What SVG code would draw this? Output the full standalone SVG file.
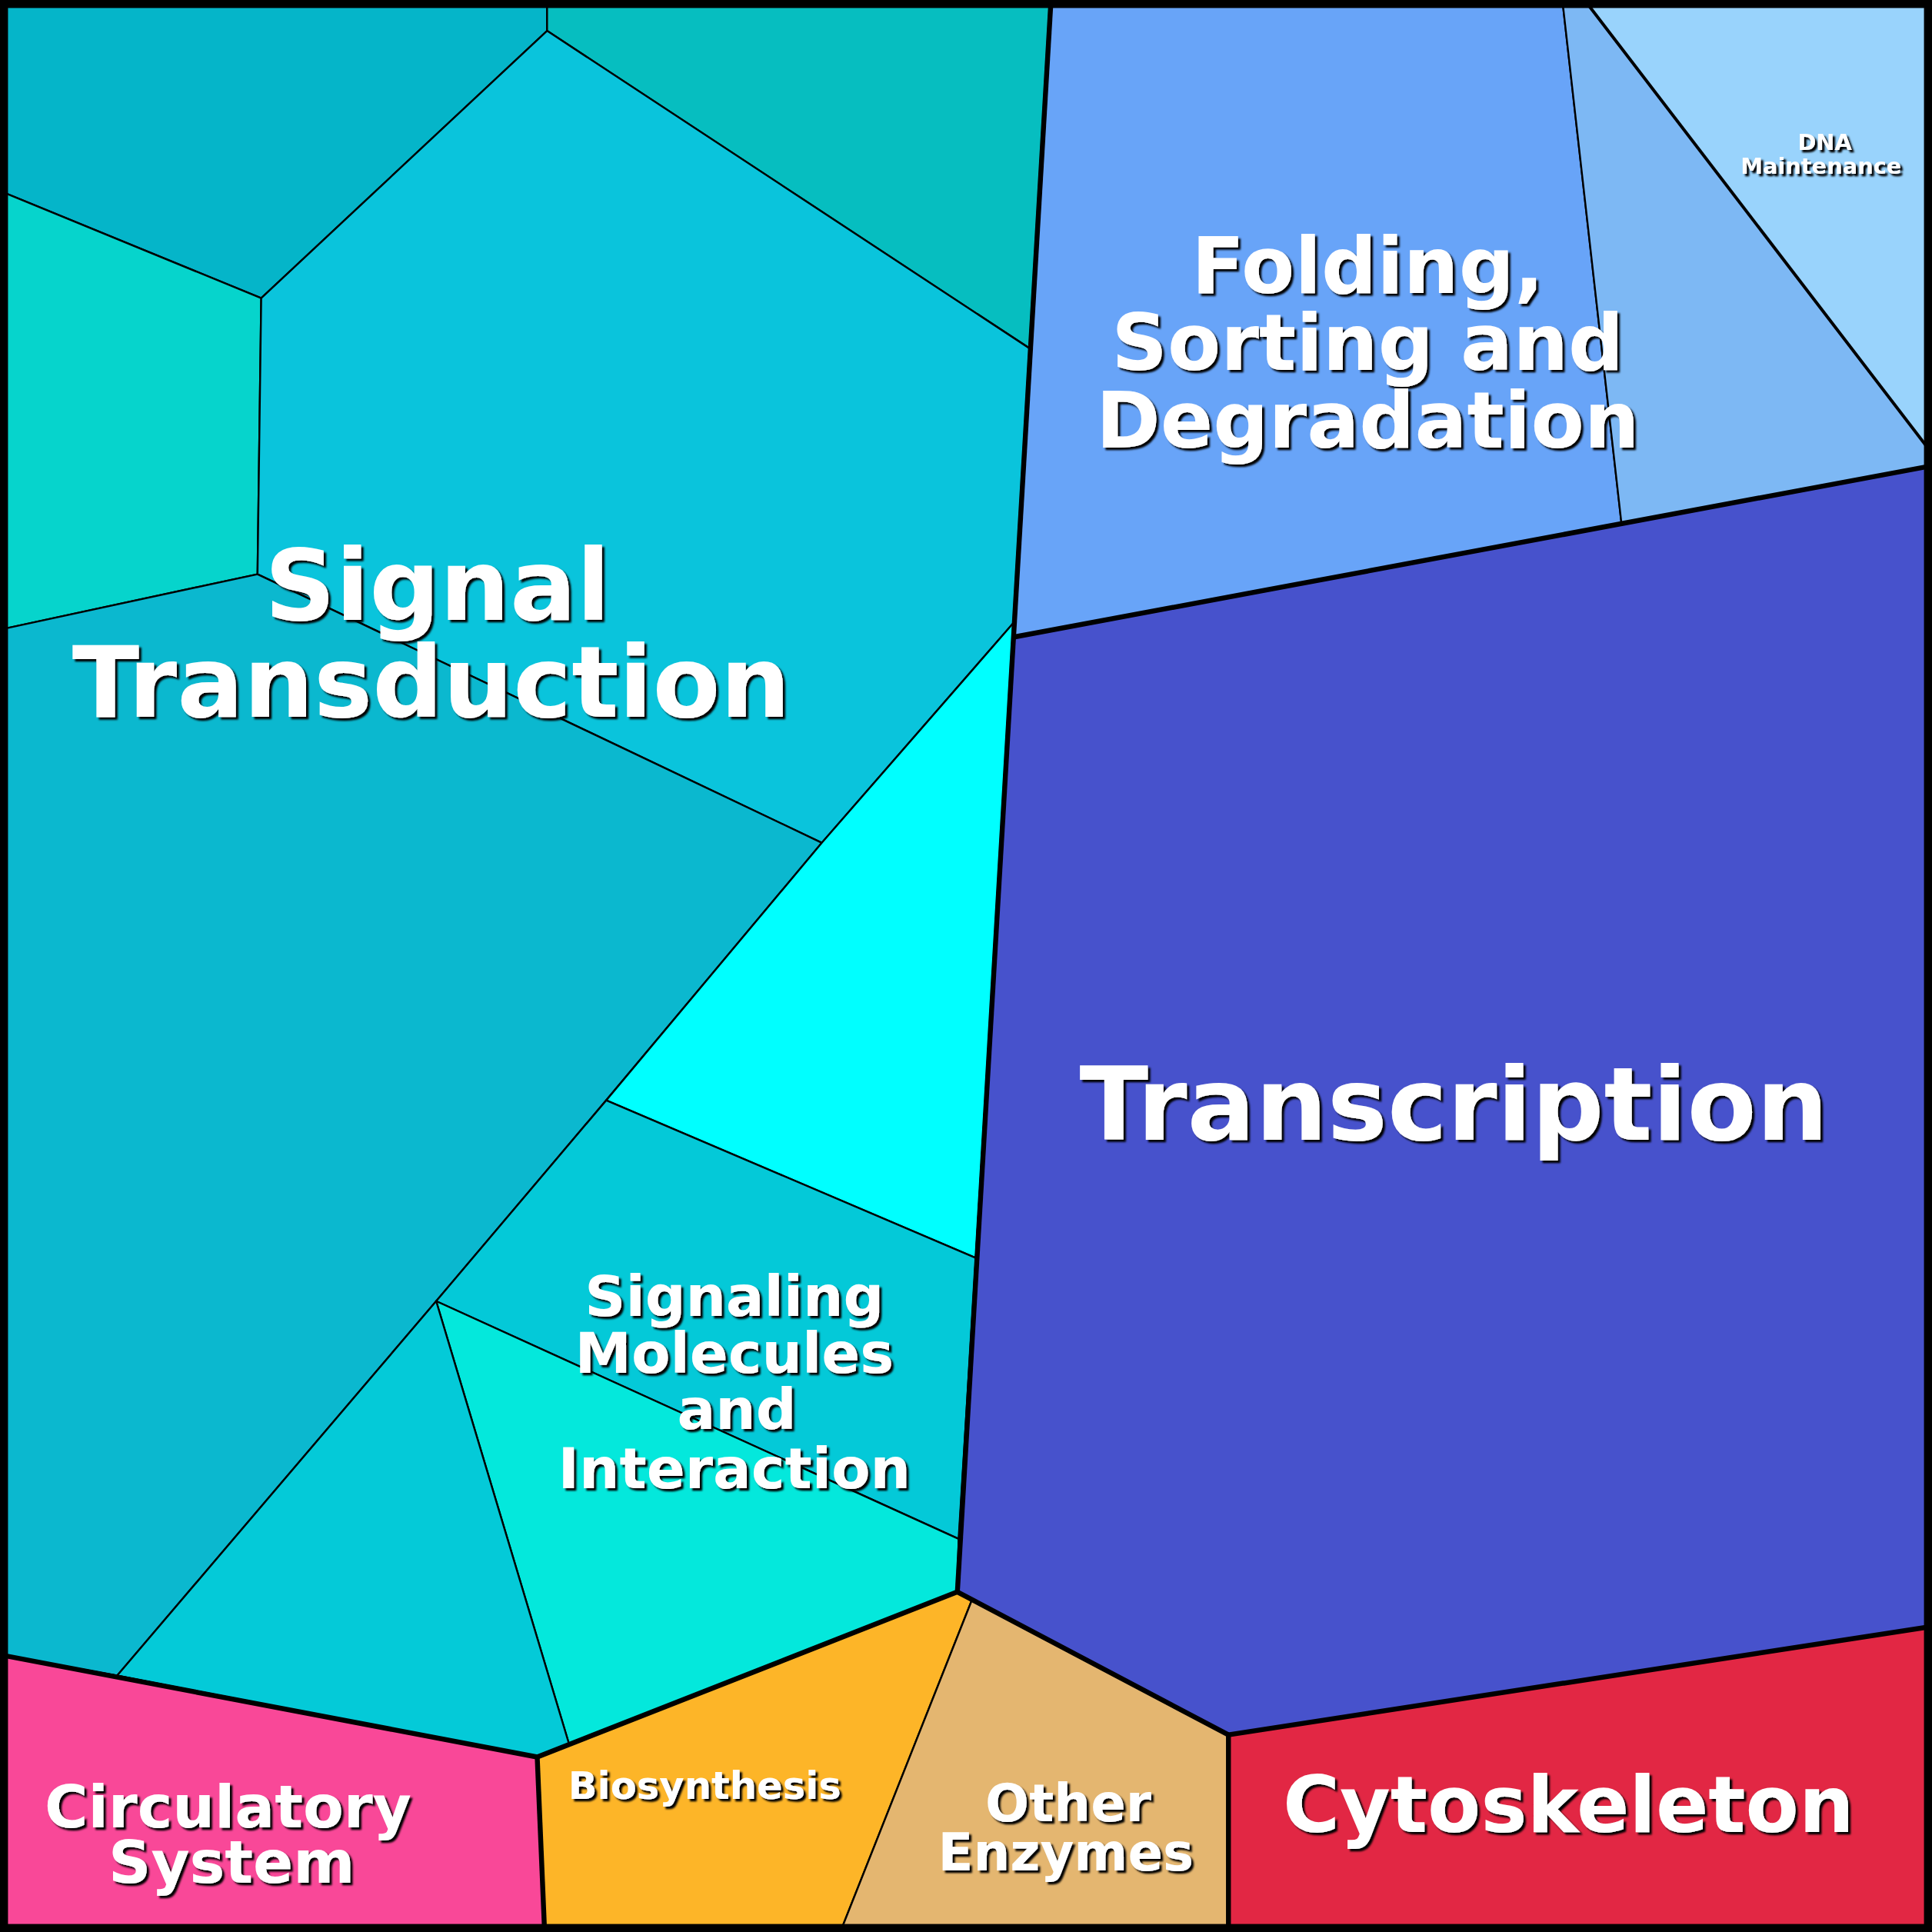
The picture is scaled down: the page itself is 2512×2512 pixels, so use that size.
<svg xmlns="http://www.w3.org/2000/svg" width="2512" height="2512" viewBox="0 0 2512 2512">
<defs>
<filter id="sh" x="-10%" y="-10%" width="120%" height="130%"><feDropShadow dx="2" dy="2" stdDeviation="0.6" flood-color="#000" flood-opacity="1"/></filter>
</defs>
<style>
.c{stroke:#000;stroke-width:1.5;stroke-linejoin:round}
.b{fill:none;stroke:#000;stroke-width:4;stroke-linejoin:round}
text{font-family:"DejaVu Sans",sans-serif;font-weight:bold;text-anchor:middle;fill:#fff;filter:url(#sh)}
</style>
<g transform="scale(1.60204)">
<g id="cells">
<g id="n1"><polygon class="c" fill="#05b5c9" points="0,0 444,0 444,25 212,242 0,155"/></g>
<g id="n2"><polygon class="c" fill="#06bec0" points="444,0 853,0 836,283 444,25"/></g>
<g id="n3"><polygon class="c" fill="#06d4cc" points="0,155 212,242 209,466 0,511"/></g>
<g id="n4"><polygon class="c" fill="#0ac4dc" points="212,242 444,25 836,283 823,505 667,684 209,466"/></g>
<g id="n5"><polygon class="c" fill="#0bb8cf" points="0,511 209,466 667,684 492,893 354,1056 95,1360 0,1343"/></g>
<g id="n6"><polygon class="c" fill="#00ffff" points="667,684 823,505 792,1021 492,893"/></g>
<g id="n7"><polygon class="c" fill="#04c9d8" points="492,893 792,1021 778,1249 354,1056"/></g>
<g id="n8"><polygon class="c" fill="#04e8dc" points="354,1056 778,1249 777,1292 462,1416"/></g>
<g id="n9"><polygon class="c" fill="#04cad8" points="95,1360 354,1056 462,1416 436,1426"/></g>
<g id="n10"><polygon class="c" fill="#f94898" points="0,1343 95,1360 436,1426 442,1568 0,1568"/></g>
<g id="n11"><polygon class="c" fill="#fdb528" points="436,1426 777,1292 789,1298 682,1568 442,1568"/></g>
<g id="n12"><polygon class="c" fill="#e4b670" points="789,1298 997,1408 997,1568 682,1568"/></g>
<g id="n13"><polygon class="c" fill="#e22744" points="997,1408 1568,1320 1568,1568 997,1568"/></g>
<g id="n14"><polygon class="c" fill="#4752cc" points="823,517 1568,378 1568,1320 997,1408 777,1292 792,1021 823,505"/></g>
<g id="n15"><polygon class="c" fill="#68a4f8" points="853,0 1268,0 1316,425 823,517 836,283"/></g>
<g id="n16"><polygon class="c" fill="#7db8f4" points="1268,0 1286,0 1568,368 1568,378 1316,425"/></g>
<g id="n17"><polygon class="c" fill="#99d3fc" points="1286,0 1568,0 1568,368"/></g>
</g>
<g id="connectors">
<polyline class="b" points="853,0 777,1292"/>
<polyline class="b" points="823,517 1568,378"/>
<polyline class="b" points="0,1343 436,1426 777,1292 997,1408 1568,1320"/>
<polyline class="b" points="436,1426 442,1568"/>
<polyline class="b" points="997,1408 997,1568"/>
<polyline class="b" style="stroke-width:2.5" points="1286,0 1568,368"/>
<rect x="3" y="3" width="1562" height="1562" fill="none" stroke="#000" stroke-width="7"/>
</g>
<g id="labels">
<g font-size="80"><text x="355" y="503">Signal</text><text x="350" y="582">Transduction</text></g>
<g font-size="82"><text x="1180" y="925">Transcription</text></g>
<g font-size="63"><text x="1110" y="238">Folding,</text><text x="1110" y="300">Sorting and</text><text x="1110" y="363">Degradation</text></g>
<g font-size="46"><text x="596" y="1068">Signaling</text><text x="596" y="1114">Molecules</text><text x="598" y="1160">and</text><text x="596" y="1208">Interaction</text></g>
<g font-size="63"><text x="1273" y="1487">Cytoskeleton</text></g>
<g font-size="48"><text x="185" y="1483">Circulatory</text><text x="188" y="1528">System</text></g>
<g font-size="42"><text x="867" y="1478">Other</text><text x="865" y="1518">Enzymes</text></g>
<g font-size="31"><text x="572" y="1460">Biosynthesis</text></g>
<g font-size="18"><text x="1481" y="122">DNA</text><text x="1478" y="141">Maintenance</text></g>
</g>
</g>
</svg>
